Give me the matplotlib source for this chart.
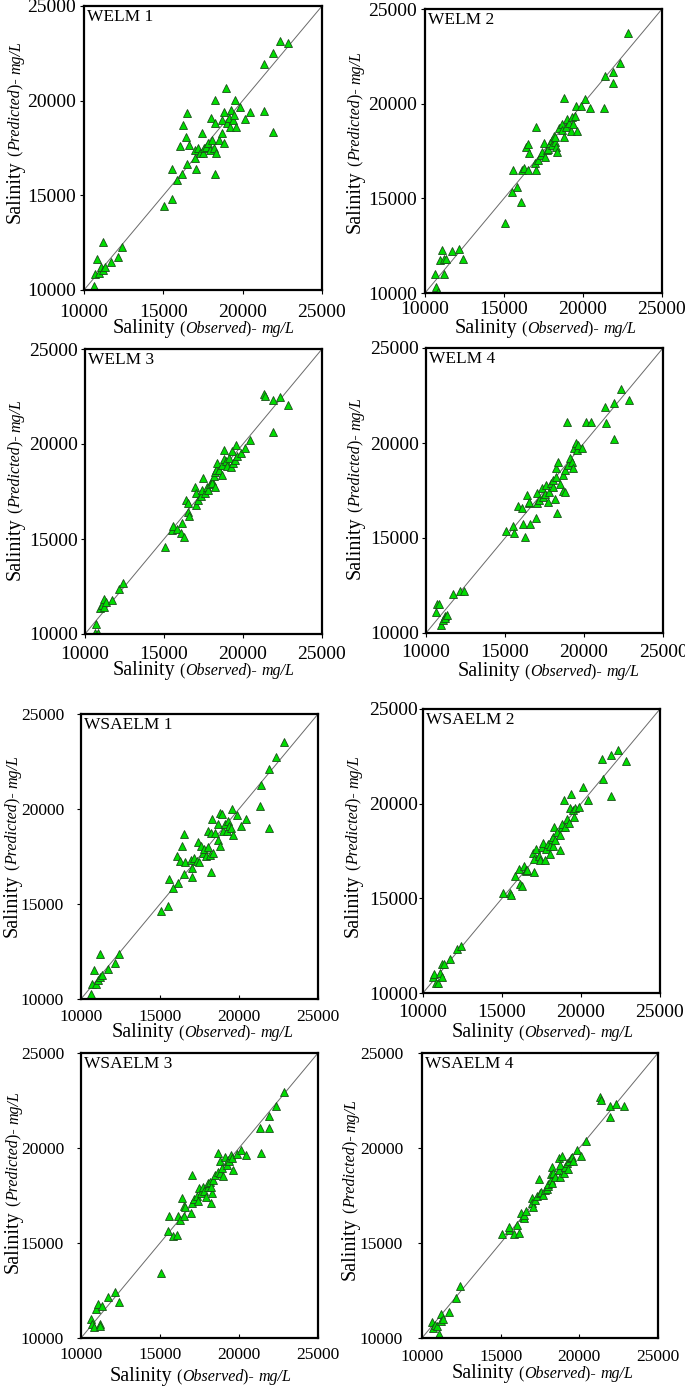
import matplotlib
matplotlib.use("Agg")
import matplotlib.pyplot as plt

W, H = 685, 1388

# observed salinity (same test set for all eight models)
observed = [10630, 10700, 10840, 10950, 11050, 11180, 11220, 11330, 11700, 12150, 12400,
            15070, 15520, 15560, 15850, 16050, 16150, 16270, 16400, 16490, 16490, 16610,
            16970, 17020, 17050, 17180, 17330, 17410, 17500, 17580, 17710, 17790, 17920,
            18040, 18020, 18170, 18230, 18270, 18250, 18340, 18480, 18700, 18700, 18800,
            18800, 18930, 19010, 19120, 19220, 19280, 19370, 19470, 19540, 19600, 19850,
            20130, 20440,
            21330, 21370, 21920, 21920, 22350, 22840]

welm1 = [10200, 10850, 11650, 10900, 11230, 12540, 11060, 11230, 11480, 11760, 12250,
         14450, 14820, 16370, 15810, 17620, 16110, 18730, 18100, 19330, 16640, 17640,
         17400, 16950, 16390, 17480, 17250, 18270, 17220, 17480, 17570, 17750, 17400,
         17930, 19070, 17480, 18800, 20040, 16110, 17220, 17930, 18270, 18980, 17750,
         19420, 20650, 18800, 19070, 18630, 19510, 18980, 19250, 20040, 18630, 19680,
         19010, 19420,
         19470, 21920, 22500, 18360, 23150, 23060]

welm2 = [11020, 10320, 10040, 11760, 12290, 11800, 11020, 11820, 12220, 12340, 11820,
         13680, 15340, 16520, 15610, 14810, 16520, 16610, 17720, 17860, 16490, 17400,
         16840, 16490, 18780, 17010, 17280, 17460, 17900, 17190, 17540, 17630, 17900,
         18070, 17800, 18280, 17980, 17720, 18250, 17460, 18690, 18950, 18600, 20280,
         18250, 18780, 19170, 18990, 18570, 19310, 18920, 19350, 19880, 18570, 19880,
         20260, 19790,
         19790, 21460, 21670, 21070, 22170, 23710]

welm3 = [10070, 10510, 10070, 11350, 11510, 11860, 11400, 11700, 11790, 12350, 12670,
         14600, 15480, 15690, 15510, 15300, 15830, 15120, 17050, 16440, 16880, 16210,
         17760, 16790, 17400, 17050, 17240, 17590, 18200, 17400, 17760, 17590, 17900,
         18030, 17950, 18330, 18550, 18640, 17760, 18990, 18640, 18900, 18380, 19700,
         19200, 19080, 18850, 19250, 18810, 19610, 18990, 19170, 19960, 19380, 19520,
         19800, 20220,
         22650, 22510, 22330, 20610, 22470, 22070]

welm4 = [11110, 11550, 11550, 10400, 10670, 10910, 10800, 10950, 12040, 12220, 12220,
         15350, 15630, 15240, 16700, 16590, 15730, 15060, 17260, 16820, 16900, 15730,
         16030, 16820, 17350, 17000, 17610, 17170, 17310, 17790, 16910, 17440, 17880,
         17700, 18050, 17030, 18230, 16290, 18670, 19020, 17840, 18320, 17490, 17440,
         18580, 21130, 18850, 19200, 19020, 18670, 19720, 19980, 19630, 19890, 19720,
         21080, 21080,
         21920, 21040, 22100, 20230, 22840, 22240]

wsaelm1 = [10250, 10770, 11530, 10770, 11000, 12370, 11180, 11260, 11600, 11910, 12370,
           14650, 14900, 16310, 15850, 17510, 16100, 17280, 18070, 18710, 16600, 17230,
           17330, 16910, 16420, 17440, 17240, 18260, 17230, 18030, 17690, 17870, 17510,
           18010, 18830, 17600, 18740, 19480, 16670, 17690, 18740, 18390, 19230, 18030,
           19790, 19760, 18830, 19230, 18830, 19360, 19090, 19000, 20000, 18650, 19710,
           19090, 19480,
           20180, 21270, 22110, 18990, 22740, 23540]

wsaelm2 = [10850, 10990, 10530, 10530, 11060, 10850, 11520, 11550, 11820, 12340, 12490,
           15290, 15290, 15160, 16170, 16570, 15780, 15640, 16720, 16490, 16450, 16490,
           17370, 17100, 16400, 17630, 17220, 17010, 17720, 17900, 17050, 17630, 17860,
           17770, 17330, 18160, 17760, 18780, 18250, 18100, 18510, 18340, 17540, 18780,
           18920, 20190, 18750, 19170, 18990, 19750, 20510, 19660, 19310, 19750, 19800,
           20860, 20220,
           22370, 21310, 22550, 20430, 22830, 22250]

wsaelm3 = [11020, 10760, 10580, 11550, 11780, 10760, 10650, 11670, 12160, 12440, 11880,
           13430, 15640, 16440, 15360, 15420, 16440, 16210, 17390, 16950, 16420, 16880,
           16560, 17120, 18580, 17300, 17470, 17220, 17880, 17650, 17960, 17750, 17440,
           17960, 18180, 18230, 17120, 17610, 17960, 18300, 18580, 18760, 19760, 18670,
           19290, 18930, 18530, 19550, 19110, 19370, 19340, 19640, 19500, 18840, 19690,
           19900, 19640,
           21040, 19720, 21040, 21690, 22190, 22940]

wsaelm4 = [10840, 10550, 10670, 10620, 10230, 11250, 10900, 11000, 11370, 12130, 12730,
           15470, 15680, 15860, 15470, 15940, 15540, 16590, 16380, 16330, 16500, 16700,
           17350, 17090, 16910, 17260, 17470, 18350, 17610, 17700, 17520, 17790, 17820,
           18000, 18110, 18320, 18630, 19020, 18140, 18670, 18490, 19460, 18840, 18460,
           19110, 19580, 18670, 18990, 19230, 18880, 19340, 19460, 19550, 19300, 19900,
           19580, 20390,
           22680, 22540, 22190, 21620, 22330, 22220]

titles = ["WELM 1", "WELM 2", "WELM 3", "WELM 4",
          "WSAELM 1", "WSAELM 2", "WSAELM 3", "WSAELM 4"]
predicted = [welm1, welm2, welm3, welm4, wsaelm1, wsaelm2, wsaelm3, wsaelm4]
ticks = [10000, 15000, 20000, 25000]

# panel boxes in pixels: left, right, top, bottom
boxes = [(84, 322, 6, 290), (425, 662, 9, 293),
         (85, 322, 349, 634), (426, 663, 348, 633),
         (81, 318, 714, 999), (423, 660, 709, 993),
         (81, 318, 1053, 1338), (422, 658, 1053, 1338)]
# x label: start x, baseline y ; y label: baseline x, start y
xlab = [(113, 333), (455, 333), (113, 675), (458, 676),
        (112, 1037), (452, 1037), (110, 1381), (452, 1378)]
ylab = [(20, 223), (360, 233), (20, 580), (360, 579),
        (17, 937), (358, 937), (18, 1273), (355, 1280)]
tick_size = [14, 14, 14, 14, 12.5, 14, 12.5, 12.5]
xdir = ["out", "out", "out", "out", "in", "out", "in", "in"]
xpad = [7, 3, 5.6, 5, 7.5, 5, 6.5, 8]
ypad = [2.7, 2.7, 2, 2, 9.2, 0.8, 9.2, 10.6]

SERIF = "Liberation Serif"

fig = plt.figure(figsize=(W / 100, H / 100), dpi=100)
renderer = fig.canvas.get_renderer()


def label_parts(kind):
    return [("Salinity", 14.5, "normal"), (" (", 11.5, "normal"),
            (kind, 11.5, "italic"), (")- ", 11.5, "normal"), ("mg/L", 11.5, "italic")]


def write_label(parts, x0, y0, vertical):
    # place text pieces one after another on a common baseline
    pos = x0 if not vertical else y0
    for txt, size, style in parts:
        if vertical:
            t = fig.text(x0 / W, 1 - pos / H, txt, fontsize=size, style=style,
                         family=SERIF, rotation=90, rotation_mode="anchor",
                         ha="left", va="baseline")
            pos -= t.get_window_extent(renderer).height
        else:
            t = fig.text(pos / W, 1 - y0 / H, txt, fontsize=size, style=style,
                         family=SERIF, ha="left", va="baseline")
            pos += t.get_window_extent(renderer).width


for i in range(8):
    l, r, t, b = boxes[i]
    ax = fig.add_axes([l / W, 1 - b / H, (r - l) / W, (b - t) / H])
    ax.plot([10000, 25000], [10000, 25000], color="#6a6a6a", lw=0.7, zorder=1)
    ax.plot(observed, predicted[i], linestyle="none", marker="^", ms=5.6,
            mfc="#00dd00", mec="#1a4d1a", mew=0.6, zorder=2)
    ax.set_xlim(10000, 25000)
    ax.set_ylim(10000, 25000)
    ax.set_xticks(ticks)
    ax.set_yticks(ticks)
    ax.tick_params(length=3, width=0.8, labelsize=tick_size[i])
    ax.tick_params(axis="y", direction="out", pad=ypad[i])
    ax.tick_params(axis="x", direction=xdir[i], pad=xpad[i])
    for lab in ax.get_xticklabels() + ax.get_yticklabels():
        lab.set_family(SERIF)
    for sp in ax.spines.values():
        sp.set_linewidth(1.6)
    ax.annotate(titles[i], xy=(0, 1), xycoords="axes fraction",
                xytext=(2, -2), textcoords="offset points",
                ha="left", va="top", fontsize=12.5, family=SERIF)

    write_label(label_parts("Observed"), xlab[i][0], xlab[i][1], False)
    write_label(label_parts("Predicted"), ylab[i][0], ylab[i][1], True)

fig.savefig("out.png", dpi=100)
